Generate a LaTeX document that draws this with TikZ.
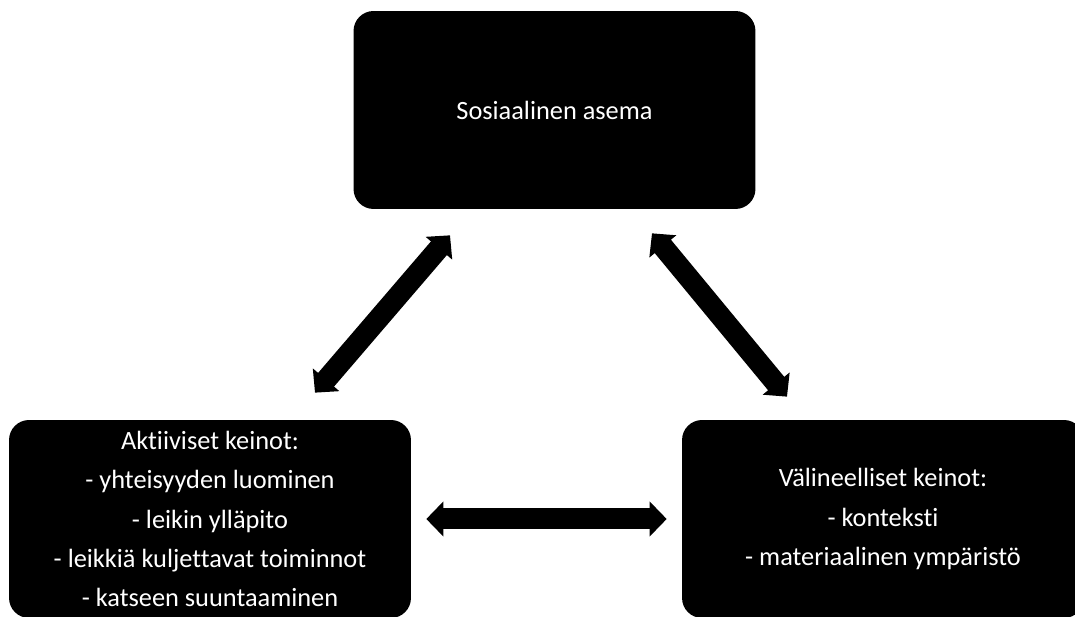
\documentclass[tikz,border=0pt]{standalone}
\usepackage{fontspec}
\setmainfont{Carlito}[Ligatures=NoCommon]
\usetikzlibrary{arrows.meta}
\begin{document}
\begin{tikzpicture}[x=0.02cm,y=-0.02cm]
\tikzstyle{every node}+=[inner sep=0pt]
\tikzstyle{box}=[fill=black,rounded corners=0.4cm,minimum width=8.04cm,minimum height=3.96cm,text=white,align=center,font=\fontsize{15}{22.3}\selectfont]
\tikzstyle{biarrow}=[line width=0.42cm,arrows={Triangle[width=0.68cm,length=0.34cm]-Triangle[width=0.68cm,length=0.34cm]}]
\clip (0,0) rectangle (1075,617);
\node [box] (asema) at (554.5,110) {Sosiaalinen asema};
\node [box] (aktiiviset) at (210,519) {Aktiiviset keinot:\\- yhteisyyden luominen\\- leikin ylläpito\\- leikkiä kuljettavat toiminnot\\- katseen suuntaaminen};
\node [box] (valineelliset) at (883,519) {Välineelliset keinot:\\- konteksti\\- materiaalinen ympäristö};
\draw [biarrow] ([shift={(105,-27)}]aktiiviset.north) -- ([shift={(-104.5,26)}]asema.south);
\draw [biarrow] ([shift={(97.5,24)}]asema.south) -- ([shift={(-96,-23)}]valineelliset.north);
\draw [biarrow] ([shift={(15,0)}]aktiiviset.east) -- ([shift={(-15,0)}]valineelliset.west);
\end{tikzpicture}
\end{document}
